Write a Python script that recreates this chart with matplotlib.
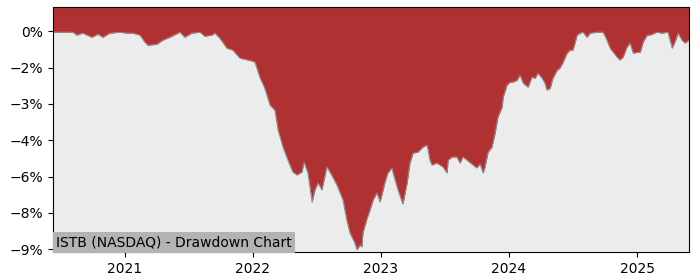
import numpy as np
import pandas as pd
import matplotlib
matplotlib.use("Agg")
import matplotlib.pyplot as plt
import matplotlib.dates as mdates
from matplotlib.ticker import FuncFormatter

# drawdown of ISTB (dates, drawdown in %)
dates = [
    "2020-06-10", "2020-06-30", "2020-07-20", "2020-08-06", "2020-08-17", "2020-09-03",
    "2020-09-29", "2020-10-16", "2020-10-30", "2020-11-19", "2020-12-18", "2021-01-07",
    "2021-01-24", "2021-02-13", "2021-02-27", "2021-03-08", "2021-04-02", "2021-04-19",
    "2021-05-09", "2021-06-07", "2021-06-21", "2021-07-11", "2021-08-03", "2021-08-17",
    "2021-09-06", "2021-09-15", "2021-09-29", "2021-10-19", "2021-11-05", "2021-11-25",
    "2021-12-18", "2022-01-01", "2022-01-07", "2022-01-21", "2022-02-04", "2022-02-19",
    "2022-03-05", "2022-03-14", "2022-03-28", "2022-04-11", "2022-04-25", "2022-05-07",
    "2022-05-21", "2022-05-27", "2022-06-07", "2022-06-19", "2022-06-27", "2022-07-06",
    "2022-07-17", "2022-07-31", "2022-08-09", "2022-08-29", "2022-09-15", "2022-09-26",
    "2022-10-05", "2022-10-19", "2022-10-25", "2022-11-03", "2022-11-08", "2022-11-11",
    "2022-11-23", "2022-12-01", "2022-12-10", "2022-12-21", "2022-12-30", "2023-01-13",
    "2023-01-21", "2023-02-02", "2023-02-05", "2023-02-19", "2023-03-05", "2023-03-17",
    "2023-03-25", "2023-04-03", "2023-04-17", "2023-05-01", "2023-05-13", "2023-05-21",
    "2023-05-27", "2023-06-10", "2023-06-27", "2023-07-09", "2023-07-12", "2023-07-23",
    "2023-08-06", "2023-08-15", "2023-08-23", "2023-09-04", "2023-09-21", "2023-10-02",
    "2023-10-11", "2023-10-20", "2023-10-25", "2023-11-03", "2023-11-14", "2023-11-23",
    "2023-12-01", "2023-12-13", "2023-12-16", "2023-12-27", "2024-01-05", "2024-01-13",
    "2024-01-25", "2024-02-02", "2024-02-11", "2024-02-25", "2024-03-07", "2024-03-16",
    "2024-03-24", "2024-04-05", "2024-04-13", "2024-04-19", "2024-04-28", "2024-05-06",
    "2024-05-18", "2024-05-26", "2024-06-04", "2024-06-15", "2024-06-24", "2024-07-02",
    "2024-07-14", "2024-07-22", "2024-07-31", "2024-08-11", "2024-08-20", "2024-09-09",
    "2024-09-26", "2024-10-07", "2024-10-16", "2024-10-25", "2024-11-05", "2024-11-13",
    "2024-11-22", "2024-12-03", "2024-12-12", "2024-12-21", "2025-01-01", "2025-01-10",
    "2025-01-18", "2025-01-30", "2025-02-07", "2025-02-27", "2025-03-13", "2025-03-30",
    "2025-04-11", "2025-04-19", "2025-04-28", "2025-05-09", "2025-05-18", "2025-05-29",
]
drawdown = [
    -0.04, -0.04, -0.04, -0.04, -0.16, -0.08,
    -0.25, -0.12, -0.25, -0.08, -0.04, -0.08,
    -0.08, -0.16, -0.45, -0.58, -0.54, -0.37,
    -0.25, -0.04, -0.25, -0.08, -0.04, -0.21,
    -0.16, -0.08, -0.29, -0.70, -0.78, -1.11,
    -1.19, -1.24, -1.28, -1.90, -2.35, -3.05,
    -3.26, -4.08, -4.78, -5.32, -5.81, -5.93,
    -5.81, -5.40, -5.85, -7.05, -6.55, -6.26,
    -6.55, -5.60, -5.81, -6.35, -6.96, -7.79,
    -8.32, -8.74, -9.02, -8.82, -8.90, -8.32,
    -7.71, -7.38, -6.96, -6.67, -7.05, -6.22,
    -5.85, -5.64, -5.85, -6.55, -7.13, -6.26,
    -5.44, -5.03, -4.99, -4.78, -4.70, -5.32,
    -5.52, -5.44, -5.60, -5.85, -5.32, -5.19,
    -5.19, -5.44, -5.19, -5.32, -5.52, -5.64,
    -5.48, -5.85, -5.60, -4.99, -4.78, -4.20,
    -3.54, -3.13, -2.72, -2.22, -2.10, -2.10,
    -2.02, -1.81, -2.14, -2.31, -1.90, -1.94,
    -1.73, -1.94, -2.14, -2.43, -2.35, -1.94,
    -1.61, -1.52, -1.28, -0.91, -0.78, -0.78,
    -0.16, -0.08, -0.04, -0.25, -0.08, -0.04,
    -0.04, -0.37, -0.70, -0.87, -1.07, -1.19,
    -1.07, -0.66, -0.49, -0.91, -0.87, -0.87,
    -0.45, -0.16, -0.16, -0.04, -0.08, -0.04,
    -0.70, -0.45, -0.08, -0.37, -0.49, -0.37,
]
yticks = [0, -1.5, -3, -4.5, -6, -7.5, -9]
title = "ISTB (NASDAQ) - Drawdown Chart"

x = pd.to_datetime(dates)
y = np.array(drawdown)
top = 1.0

fig = plt.figure(figsize=(7, 2.8), dpi=100)
ax = fig.add_axes([0.0757, 0.1, 0.9086, 0.875])
ax.set_facecolor("#ececec")

ax.fill_between(x, y, top, color="#b03131", linewidth=0)
ax.plot(x, y, color="#8a8a8a", linewidth=0.8)

ax.set_xlim(x[0], x[-1])
ax.set_ylim(-9.11, top)
ax.set_yticks(yticks)
ax.yaxis.set_major_formatter(FuncFormatter(lambda v, p: f"{v:.0f}%".replace("-", "\u2212")))
ax.xaxis.set_major_locator(mdates.YearLocator())
ax.xaxis.set_major_formatter(mdates.DateFormatter("%Y"))
ax.tick_params(labelsize=10)

ax.text(0.005, 0.012, title, transform=ax.transAxes, fontsize=10, ha="left", va="bottom",
        bbox=dict(facecolor="#b3b3b3", edgecolor="none", pad=2.5))

fig.savefig("out.png", dpi=100)
